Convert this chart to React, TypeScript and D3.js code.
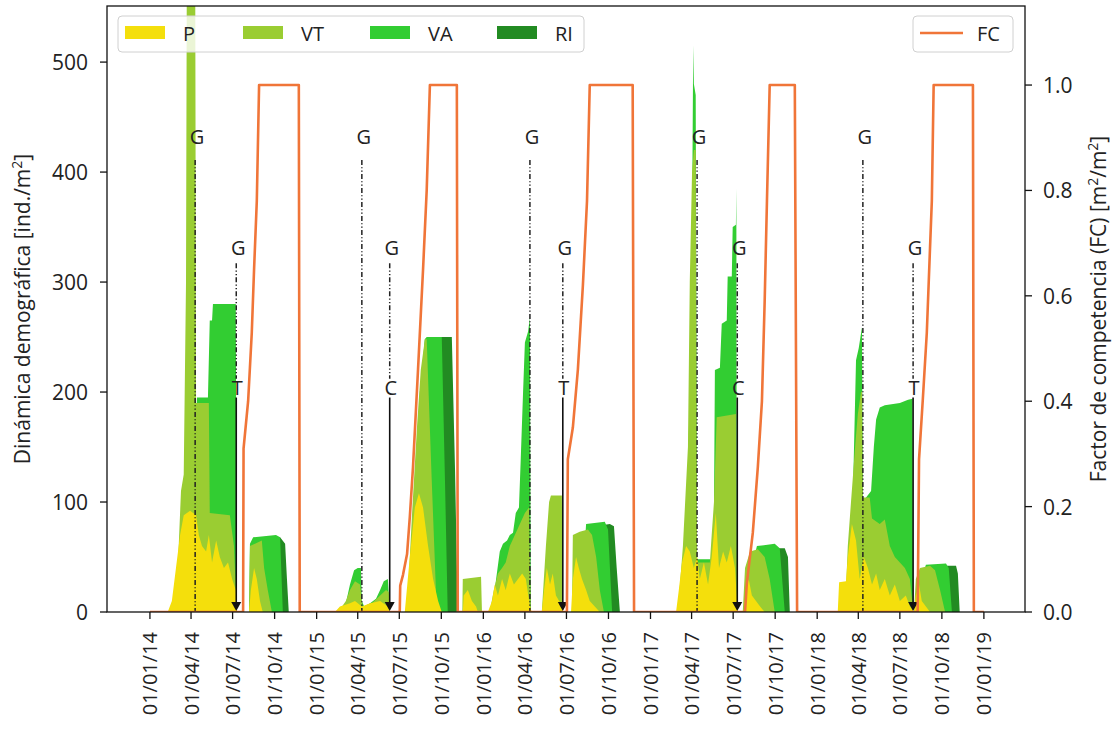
import React from "react";
import * as d3 from "d3";

type Pt = [number, number, number]; // [year, day of year, value]

const P_DATA: Pt[] = [
  [2014, 39, 0], [2014, 48, 10], [2014, 57, 40], [2014, 66, 70], [2014, 74, 88], [2014, 88, 92], [2014, 101, 88],
  [2014, 107, 70], [2014, 114, 60], [2014, 123, 55], [2014, 129, 70], [2014, 136, 45], [2014, 145, 65], [2014, 153, 50],
  [2014, 162, 40], [2014, 171, 45], [2014, 180, 30], [2014, 188, 20], [2014, 191, 0],
  [2014, 217, 0], [2014, 221, 20], [2014, 228, 40], [2014, 234, 30], [2014, 241, 10], [2014, 247, 0],
  [2015, 40, 0], [2015, 51, 5], [2015, 73, 8], [2015, 84, 10], [2015, 99, 5], [2015, 117, 8], [2015, 139, 10], [2015, 156, 5], [2015, 160, 0],
  [2015, 193, 0], [2015, 204, 50], [2015, 215, 95], [2015, 224, 108], [2015, 233, 95], [2015, 244, 60], [2015, 255, 30], [2015, 266, 10], [2015, 274, 0],
  [2015, 320, 0], [2015, 322, 15], [2015, 331, 20], [2015, 340, 10], [2015, 349, 5], [2015, 353, 0],
  [2016, 10, 0], [2016, 19, 10], [2016, 25, 25], [2016, 32, 15], [2016, 41, 30], [2016, 49, 20], [2016, 58, 35], [2016, 67, 25],
  [2016, 76, 30], [2016, 85, 35], [2016, 93, 30], [2016, 102, 5], [2016, 106, 0],
  [2016, 128, 0], [2016, 133, 20], [2016, 139, 40], [2016, 146, 25], [2016, 152, 35], [2016, 159, 15], [2016, 166, 10], [2016, 172, 5], [2016, 174, 0],
  [2016, 192, 0], [2016, 196, 30], [2016, 203, 50], [2016, 209, 40], [2016, 216, 30], [2016, 225, 20], [2016, 233, 10], [2016, 244, 5], [2016, 255, 0],
  [2017, 56, 0], [2017, 62, 20], [2017, 69, 45], [2017, 78, 60], [2017, 86, 55], [2017, 95, 40], [2017, 102, 50], [2017, 108, 30],
  [2017, 117, 45], [2017, 126, 25], [2017, 134, 50], [2017, 143, 90], [2017, 150, 40], [2017, 159, 55], [2017, 167, 45],
  [2017, 176, 60], [2017, 185, 40], [2017, 191, 0],
  [2017, 204, 0], [2017, 209, 20], [2017, 215, 30], [2017, 222, 15], [2017, 231, 10], [2017, 240, 5], [2017, 250, 0],
  [2018, 45, 0], [2018, 48, 27], [2018, 63, 28], [2018, 67, 50], [2018, 76, 80], [2018, 85, 65], [2018, 93, 30], [2018, 102, 50],
  [2018, 111, 40], [2018, 120, 25], [2018, 129, 35], [2018, 137, 20], [2018, 148, 30], [2018, 159, 15], [2018, 170, 25],
  [2018, 181, 10], [2018, 194, 15], [2018, 203, 5], [2018, 212, 0],
  [2018, 216, 15], [2018, 223, 25], [2018, 229, 10], [2018, 238, 5], [2018, 247, 0],
];

const VT_DATA: Pt[] = [
  [2014, 53, 0], [2014, 61, 40], [2014, 68, 110], [2014, 74, 125], [2014, 79, 300], [2014, 81, 620], [2014, 99, 620],
  [2014, 101, 190], [2014, 129, 190], [2014, 131, 90], [2014, 175, 88], [2014, 184, 60], [2014, 190, 0],
  [2014, 217, 0], [2014, 219, 60], [2014, 245, 65], [2014, 250, 40], [2014, 258, 20], [2014, 267, 0],
  [2015, 47, 0], [2015, 64, 10], [2015, 73, 20], [2015, 84, 28], [2015, 95, 25], [2015, 99, 10], [2015, 101, 3],
  [2015, 121, 8], [2015, 139, 15], [2015, 152, 20], [2015, 158, 18], [2015, 160, 0],
  [2015, 198, 0], [2015, 209, 90], [2015, 220, 170], [2015, 228, 220], [2015, 237, 248], [2015, 241, 248], [2015, 252, 120], [2015, 263, 0],
  [2015, 319, 0], [2015, 320, 30], [2015, 360, 32], [2015, 362, 0],
  [2016, 14, 0], [2016, 23, 20], [2016, 32, 35], [2016, 41, 40], [2016, 49, 45], [2016, 58, 60], [2016, 69, 70], [2016, 80, 80],
  [2016, 91, 90], [2016, 100, 95], [2016, 104, 0],
  [2016, 128, 0], [2016, 137, 60], [2016, 144, 100], [2016, 148, 106], [2016, 172, 106], [2016, 174, 0],
  [2016, 194, 0], [2016, 196, 70], [2016, 211, 73], [2016, 229, 75], [2016, 238, 70], [2016, 247, 50], [2016, 255, 20], [2016, 264, 0],
  [2017, 60, 0], [2017, 71, 60], [2017, 82, 150], [2017, 86, 300], [2017, 91, 400], [2017, 95, 420], [2017, 99, 420],
  [2017, 102, 50], [2017, 104, 45], [2017, 130, 45], [2017, 134, 70], [2017, 139, 100], [2017, 145, 177], [2017, 187, 180], [2017, 189, 0],
  [2017, 202, 0], [2017, 207, 40], [2017, 218, 55], [2017, 235, 57], [2017, 250, 50], [2017, 261, 30], [2017, 272, 0],
  [2018, 61, 0], [2018, 67, 60], [2018, 74, 100], [2018, 83, 150], [2018, 89, 180], [2018, 96, 200], [2018, 98, 200],
  [2018, 100, 104], [2018, 115, 104], [2018, 120, 85], [2018, 137, 80], [2018, 148, 84], [2018, 159, 60], [2018, 170, 50],
  [2018, 181, 45], [2018, 192, 40], [2018, 203, 30], [2018, 210, 0],
  [2018, 212, 0], [2018, 216, 30], [2018, 225, 40], [2018, 247, 42], [2018, 258, 38], [2018, 269, 20], [2018, 280, 0],
];

const VA_DATA: Pt[] = [
  [2014, 57, 0], [2014, 77, 50], [2014, 99, 150], [2014, 103, 195], [2014, 127, 195], [2014, 131, 265], [2014, 136, 265],
  [2014, 138, 280], [2014, 188, 280], [2014, 190, 0],
  [2014, 217, 0], [2014, 219, 62], [2014, 226, 68], [2014, 276, 70], [2014, 285, 68], [2014, 291, 0],
  [2015, 51, 0], [2015, 64, 8], [2015, 73, 25], [2015, 82, 38], [2015, 90, 40], [2015, 97, 40], [2015, 99, 10], [2015, 104, 5],
  [2015, 117, 8], [2015, 130, 12], [2015, 139, 20], [2015, 147, 28], [2015, 156, 30], [2015, 160, 0],
  [2015, 204, 0], [2015, 226, 200], [2015, 237, 248], [2015, 241, 250], [2015, 274, 250], [2015, 281, 120], [2015, 287, 0],
  [2016, 19, 0], [2016, 28, 30], [2016, 36, 55], [2016, 43, 62], [2016, 52, 65], [2016, 58, 70], [2016, 65, 72], [2016, 71, 90],
  [2016, 78, 95], [2016, 82, 140], [2016, 87, 200], [2016, 91, 245], [2016, 98, 255], [2016, 102, 268], [2016, 104, 0],
  [2016, 198, 0], [2016, 203, 50], [2016, 222, 60], [2016, 225, 80], [2016, 266, 82], [2016, 273, 75], [2016, 282, 0],
  [2017, 62, 0], [2017, 78, 60], [2017, 86, 200], [2017, 91, 350], [2017, 93, 480], [2017, 94, 515], [2017, 95, 480], [2017, 99, 470],
  [2017, 102, 48], [2017, 134, 48], [2017, 137, 72], [2017, 139, 90], [2017, 141, 220], [2017, 152, 222], [2017, 156, 262],
  [2017, 167, 265], [2017, 169, 305], [2017, 178, 305], [2017, 180, 350], [2017, 187, 352], [2017, 188, 385], [2017, 189, 0],
  [2017, 213, 0], [2017, 222, 40], [2017, 233, 60], [2017, 272, 62], [2017, 283, 58], [2017, 294, 0],
  [2018, 65, 0], [2018, 72, 80], [2018, 78, 102], [2018, 85, 229], [2018, 91, 240], [2018, 98, 259], [2018, 100, 100],
  [2018, 107, 104], [2018, 118, 110], [2018, 124, 150], [2018, 129, 175], [2018, 137, 186], [2018, 148, 188], [2018, 181, 190],
  [2018, 199, 193], [2018, 209, 194], [2018, 210, 0],
  [2018, 220, 0], [2018, 229, 30], [2018, 238, 43], [2018, 282, 44], [2018, 288, 40], [2018, 295, 0],
];

const RI_DATA: Pt[] = [
  [2014, 245, 0], [2014, 250, 60], [2014, 285, 68], [2014, 296, 62], [2014, 300, 30], [2014, 304, 0],
  [2015, 226, 0], [2015, 237, 248], [2015, 244, 250], [2015, 296, 250], [2015, 303, 130], [2015, 309, 0],
  [2016, 233, 0], [2016, 244, 78], [2016, 277, 80], [2016, 286, 78], [2016, 292, 40], [2016, 299, 0],
  [2017, 233, 0], [2017, 250, 58], [2017, 294, 58], [2017, 301, 50], [2017, 305, 0],
  [2018, 247, 0], [2018, 258, 42], [2018, 304, 42], [2018, 308, 35], [2018, 312, 0],
];

const FC_DATA: Pt[] = [
  [2014, 0, 0], [2014, 204, 0], [2014, 205, 0.31], [2014, 215, 0.4], [2014, 223, 0.53], [2014, 228, 0.65], [2014, 234, 0.78],
  [2014, 239, 1.0], [2014, 326, 1.0], [2014, 328, 0],
  [2015, 182, 0], [2015, 183, 0.05], [2015, 189, 0.07], [2015, 198, 0.11], [2015, 204, 0.18], [2015, 211, 0.275], [2015, 222, 0.46],
  [2015, 233, 0.65], [2015, 241, 0.8], [2015, 248, 1.0], [2015, 307, 1.0], [2015, 309, 0],
  [2016, 183, 0], [2016, 185, 0.29], [2016, 196, 0.35], [2016, 207, 0.46], [2016, 218, 0.62], [2016, 227, 0.78], [2016, 233, 1.0],
  [2016, 327, 1.0], [2016, 330, 0],
  [2017, 207, 0], [2017, 211, 0.055], [2017, 224, 0.15], [2017, 235, 0.275], [2017, 244, 0.4], [2017, 250, 0.59], [2017, 255, 0.78],
  [2017, 261, 1.0], [2017, 316, 1.0], [2017, 321, 0],
  [2018, 220, 0], [2018, 223, 0.29], [2018, 231, 0.4], [2018, 240, 0.53], [2018, 247, 0.69], [2018, 251, 0.78], [2018, 255, 1.0],
  [2018, 341, 1.0], [2018, 343, 0], [2019, 0, 0],
];

// Germination events (tall G lines): [year, day of year]
const G_EVENTS: [number, number][] = [[2014, 99], [2015, 99], [2016, 102], [2017, 102], [2018, 100]];
// Second G followed by management event: [year, day of year, label]
const MGMT_EVENTS: [number, number, string][] = [
  [2014, 189, "T"], [2015, 160, "C"], [2016, 174, "T"], [2017, 190, "C"], [2018, 210, "T"],
];

const X_TICK_LABELS = [
  "01/01/14", "01/04/14", "01/07/14", "01/10/14", "01/01/15", "01/04/15", "01/07/15", "01/10/15",
  "01/01/16", "01/04/16", "01/07/16", "01/10/16", "01/01/17", "01/04/17", "01/07/17", "01/10/17",
  "01/01/18", "01/04/18", "01/07/18", "01/10/18", "01/01/19",
];
const LEFT_TICKS = [0, 100, 200, 300, 400, 500];
const RIGHT_TICKS = [0, 0.2, 0.4, 0.6, 0.8, 1.0];

const SERIES = [
  { name: "RI", data: RI_DATA, color: "#228B22" },
  { name: "VA", data: VA_DATA, color: "#32CD32" },
  { name: "VT", data: VT_DATA, color: "#9ACD32" },
  { name: "P", data: P_DATA, color: "#F4DF0C" },
];
const LEGEND_ORDER = ["P", "VT", "VA", "RI"];
const FC_COLOR = "#F07538";
const FONT = "'Open Sans', 'Liberation Sans', sans-serif";

const toDate = (y: number, d: number) => new Date(Date.UTC(y, 0, 1) + d * 86400000);

export default function App() {
  const W = 1114, H = 729;
  const L = 107, R = 1025, T = 6, B = 612;

  const x = d3.scaleUtc()
    .domain([new Date(Date.UTC(2013, 8, 29)), new Date(Date.UTC(2019, 3, 1))])
    .range([L, R]);
  const yL = d3.scaleLinear().domain([0, 551]).range([B, T]);
  const yR = d3.scaleLinear().domain([0, 1.15]).range([B, T]);

  const area = d3.area<Pt>()
    .x((p) => x(toDate(p[0], p[1])))
    .y0(yL(0))
    .y1((p) => yL(p[2]));
  const fcLine = d3.line<Pt>()
    .x((p) => x(toDate(p[0], p[1])))
    .y((p) => yR(p[2]));

  const parseTick = d3.utcParse("%d/%m/%y");
  const dash = "5,2.2,1.2,2.2,1.2,2.2";

  const legendEntries = LEGEND_ORDER.map((n) => SERIES.find((s) => s.name === n)!);
  const legendPatchX = [125, 243, 370, 497];

  return (
    <svg width={W} height={H} style={{ position: "absolute", left: 0, top: 0, background: "#fff" }} fontFamily={FONT}>
      <defs>
        <clipPath id="plotclip">
          <rect x={L} y={T} width={R - L} height={B - T} />
        </clipPath>
      </defs>

      <g clipPath="url(#plotclip)">
        {SERIES.map((s) => (
          <path key={s.name} d={area(s.data) || ""} fill={s.color} stroke="none" />
        ))}

        {/* Tall G lines */}
        {G_EVENTS.map(([yy, dd], i) => {
          const xx = x(toDate(yy, dd));
          return (
            <g key={"g" + i}>
              <line x1={xx} x2={xx} y1={yL(411)} y2={yL(0)} stroke="#222" strokeWidth={1.5} strokeDasharray={dash} />
              <text x={xx + 2} y={yL(432)} fontSize={20} textAnchor="middle" dominantBaseline="central" fill="#222">G</text>
            </g>
          );
        })}

        {/* Second G + management arrows */}
        {MGMT_EVENTS.map(([yy, dd, lab], i) => {
          const xx = x(toDate(yy, dd));
          const tip = yL(0) - 1;
          return (
            <g key={"m" + i}>
              <text x={xx + 2} y={yL(331)} fontSize={20} textAnchor="middle" dominantBaseline="central" fill="#222">G</text>
              <line x1={xx} x2={xx} y1={yL(317)} y2={yL(212)} stroke="#222" strokeWidth={1.5} strokeDasharray={dash} />
              <text x={xx + 1} y={yL(204)} fontSize={20} textAnchor="middle" dominantBaseline="central" fill="#222">{lab}</text>
              <line x1={xx} x2={xx} y1={yL(195)} y2={tip - 6} stroke="#111" strokeWidth={1.6} />
              <path d={`M${xx - 5},${tip - 9}L${xx + 5},${tip - 9}L${xx},${tip}Z`} fill="#111" />
            </g>
          );
        })}

        <path d={fcLine(FC_DATA) || ""} fill="none" stroke={FC_COLOR} strokeWidth={2.6} strokeLinejoin="round" />
      </g>

      {/* Spines */}
      <rect x={L} y={T} width={R - L} height={B - T} fill="none" stroke="#111" strokeWidth={1.3} />

      {/* Left axis */}
      {LEFT_TICKS.map((v) => (
        <g key={"l" + v}>
          <line x1={L - 7} x2={L} y1={yL(v)} y2={yL(v)} stroke="#111" strokeWidth={1.3} />
          <text x={88} y={yL(v)} fontSize={21} textAnchor="end" dominantBaseline="central" fill="#222">{v}</text>
        </g>
      ))}
      {/* Right axis */}
      {RIGHT_TICKS.map((v) => (
        <g key={"r" + v}>
          <line x1={R} x2={R + 7} y1={yR(v)} y2={yR(v)} stroke="#111" strokeWidth={1.3} />
          <text x={1043} y={yR(v)} fontSize={21} textAnchor="start" dominantBaseline="central" fill="#222">{d3.format(".1f")(v)}</text>
        </g>
      ))}
      {/* X axis */}
      {X_TICK_LABELS.map((lab) => {
        const xx = x(parseTick(lab)!);
        return (
          <g key={lab}>
            <line x1={xx} x2={xx} y1={B} y2={B + 7} stroke="#111" strokeWidth={1.3} />
            <text transform={`translate(${xx},${B + 20}) rotate(-90)`} fontSize={20} textAnchor="end" dominantBaseline="central" fill="#222">{lab}</text>
          </g>
        );
      })}

      {/* Axis titles */}
      <text transform={`translate(30,${(T + B) / 2}) rotate(-90)`} fontSize={21} textAnchor="middle" fill="#222">
        Dinámica demográfica [ind./m<tspan dy={-8} fontSize={14}>2</tspan><tspan dy={8}>]</tspan>
      </text>
      <text transform={`translate(1106,${(T + B) / 2}) rotate(-90)`} fontSize={21} textAnchor="middle" fill="#222">
        Factor de competencia (FC) [m<tspan dy={-8} fontSize={14}>2</tspan><tspan dy={8}>/m</tspan><tspan dy={-8} fontSize={14}>2</tspan><tspan dy={8}>]</tspan>
      </text>

      {/* Left legend */}
      <rect x={118} y={16} width={466} height={36} rx={4} fill="#fff" fillOpacity={0.8} stroke="#d0d0d0" strokeWidth={1} />
      {legendEntries.map((s, i) => (
        <g key={"lg" + s.name}>
          <rect x={legendPatchX[i]} y={26} width={40} height={13} fill={s.color} />
          <text x={legendPatchX[i] + 58} y={33} fontSize={20} dominantBaseline="central" fill="#222">{s.name}</text>
        </g>
      ))}

      {/* Right legend */}
      <rect x={913} y={16} width={100} height={36} rx={4} fill="#fff" fillOpacity={0.8} stroke="#d0d0d0" strokeWidth={1} />
      <line x1={920} x2={963} y1={33} y2={33} stroke={FC_COLOR} strokeWidth={2.6} />
      <text x={977} y={33} fontSize={20} dominantBaseline="central" fill="#222">FC</text>
    </svg>
  );
}
